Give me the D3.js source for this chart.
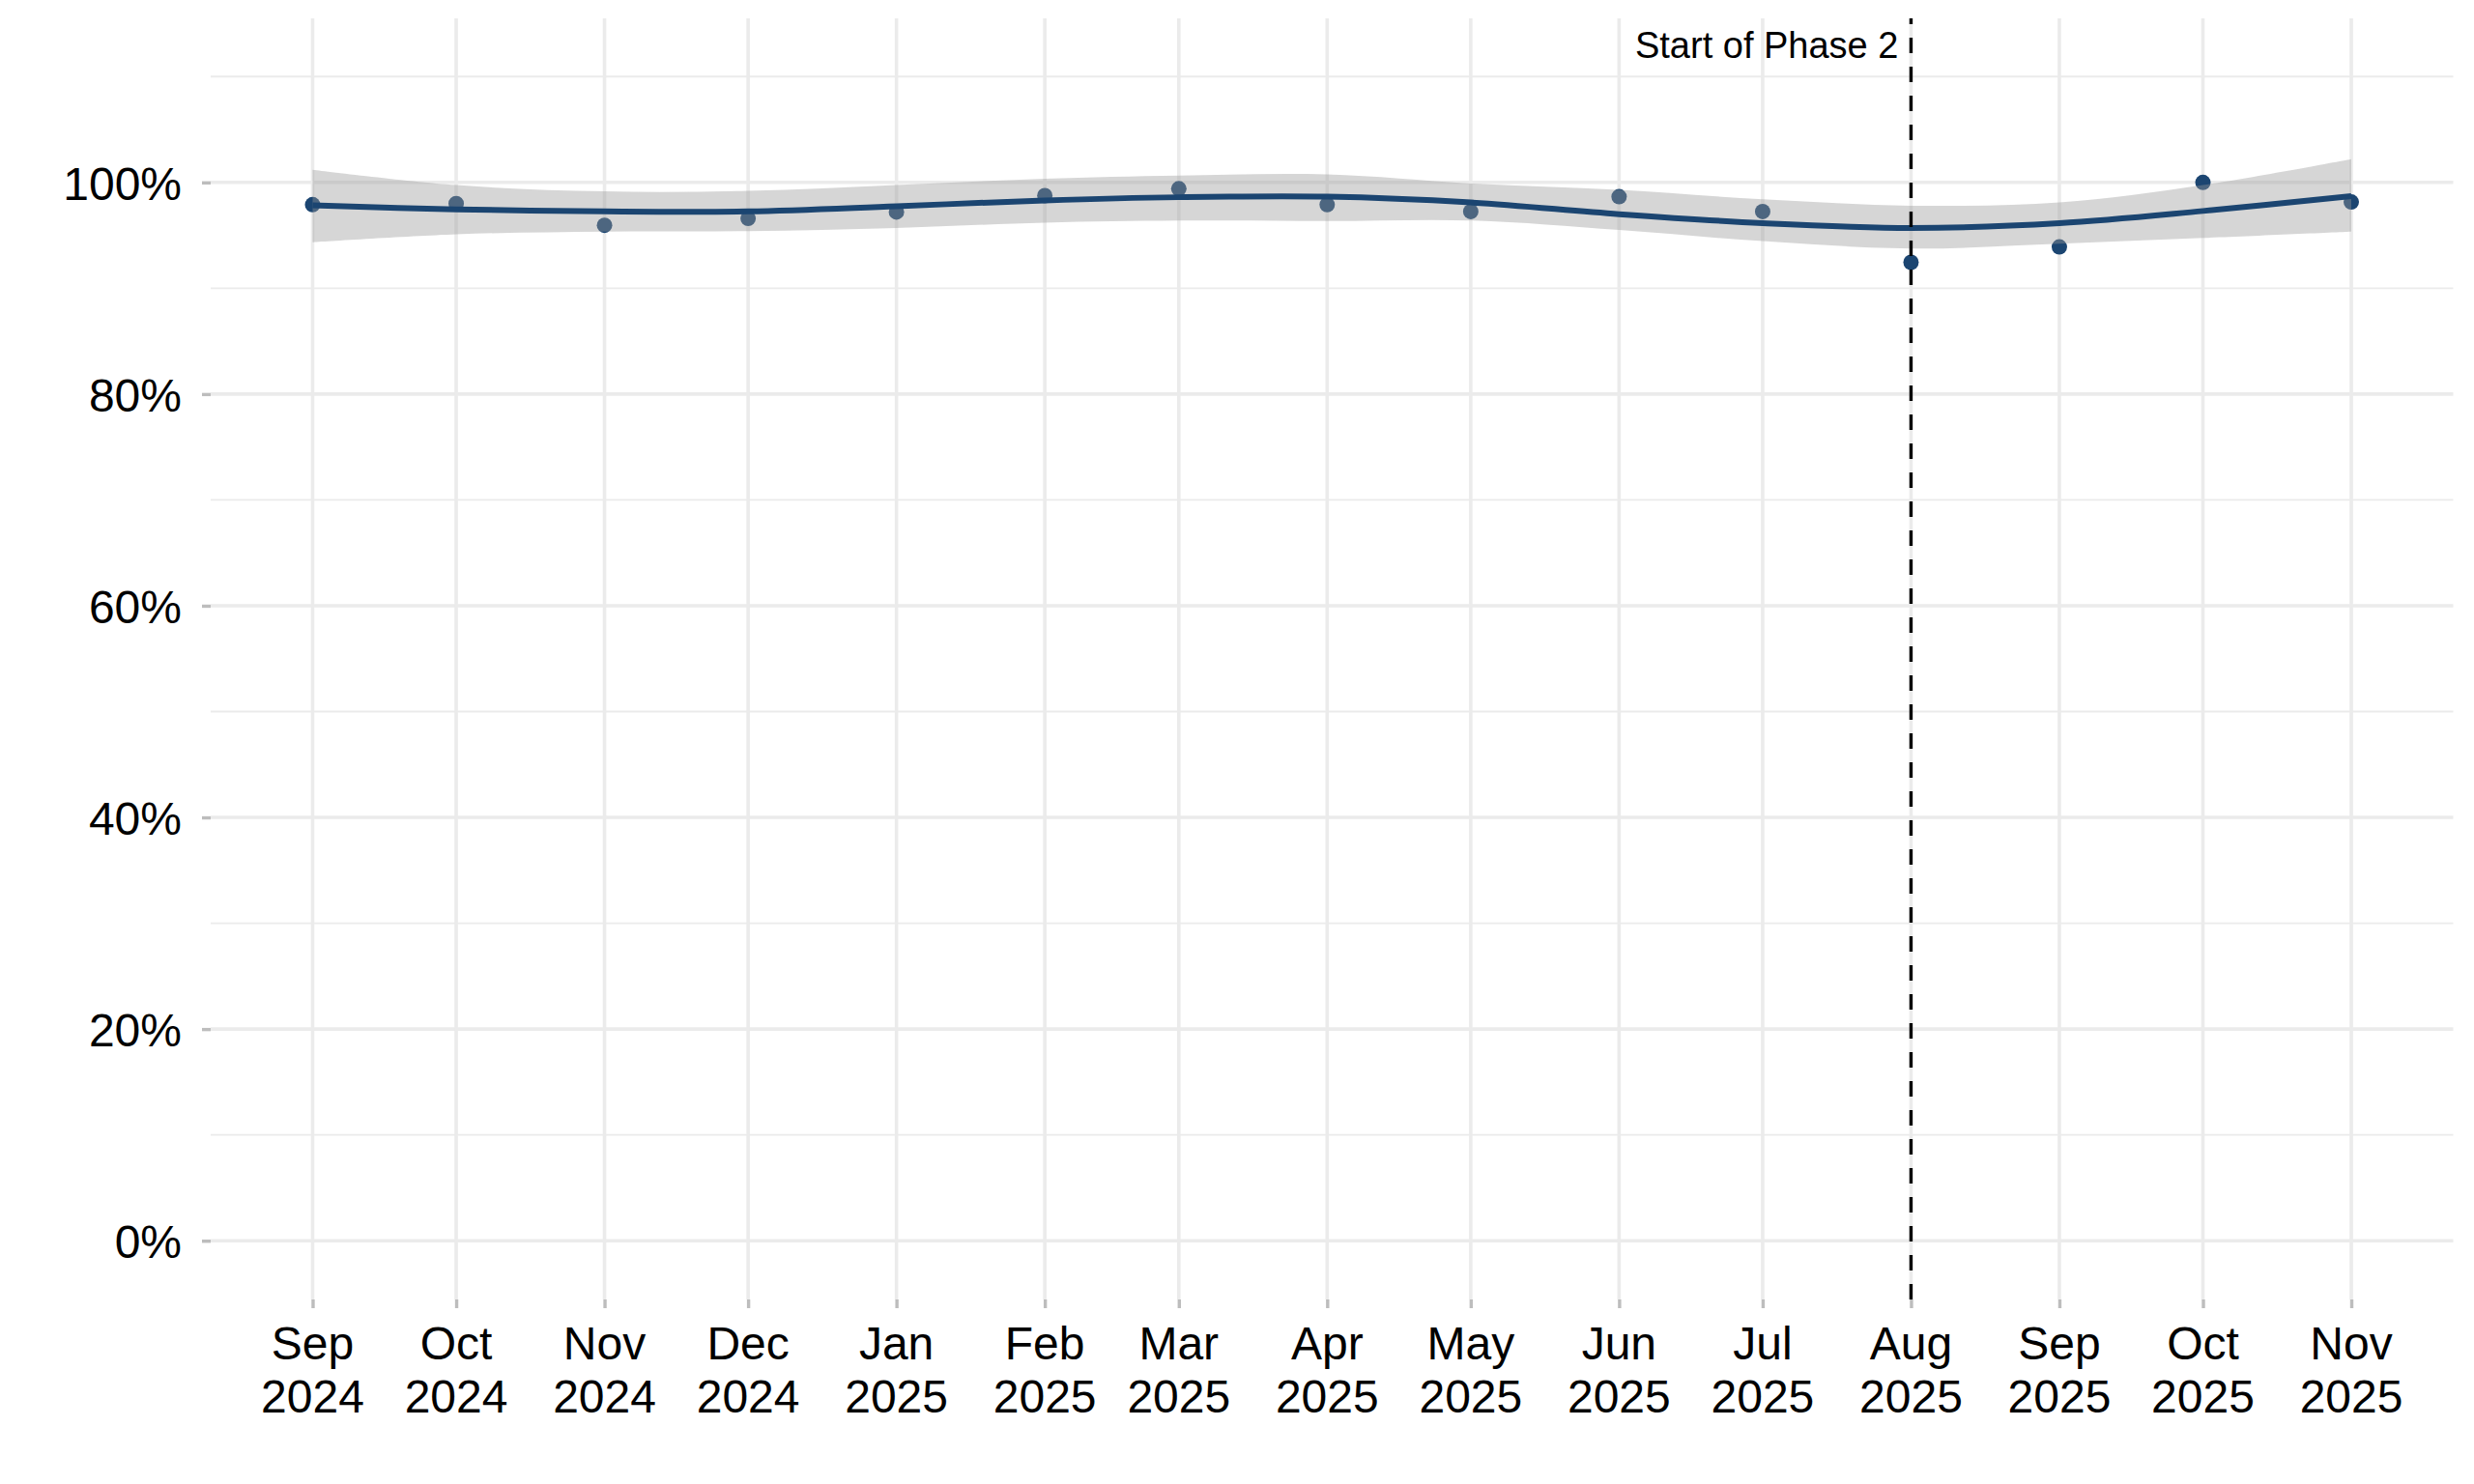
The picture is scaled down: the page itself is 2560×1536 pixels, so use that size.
<!DOCTYPE html>
<html>
<head>
<meta charset="utf-8">
<script src="https://cdn.jsdelivr.net/npm/d3@7"></script>
<style>
  html, body { margin: 0; padding: 0; background: #ffffff; }
  svg { display: block; font-family: "Liberation Sans", Arial, Helvetica, sans-serif; }
</style>
</head>
<body>
<svg id="chart" width="2560" height="1536"></svg>
<script>
// ---- data ----
const months = ["2024-09-01","2024-10-01","2024-11-01","2024-12-01","2025-01-01","2025-02-01","2025-03-01",
                "2025-04-01","2025-05-01","2025-06-01","2025-07-01","2025-08-01","2025-09-01","2025-10-01","2025-11-01"];
const values = [97.9, 98.0, 95.95, 96.6, 97.2, 98.75, 99.4, 97.9, 97.25, 98.65, 97.25, 92.45, 93.9, 100.0, 98.15];
const smoothFit = [97.84, 97.45, 97.26, 97.26, 97.75, 98.3, 98.6, 98.65, 98.1, 97.0, 96.15, 95.7, 96.15, 97.3, 98.7];
const smoothLower = [94.35, 95.1, 95.35, 95.4, 95.7, 96.2, 96.4, 96.35, 96.4, 95.5, 94.45, 93.75, 94.2, 94.75, 95.35];
const smoothUpper = [101.2, 99.75, 99.15, 99.2, 99.75, 100.35, 100.65, 100.75, 99.9, 99.3, 98.4, 97.8, 98.1, 99.75, 102.2];
const yTicks = [0, 20, 40, 60, 80, 100];
const yMinorTicks = [10, 30, 50, 70, 90, 110];
const monthLabels = ["Sep","Oct","Nov","Dec","Jan","Feb","Mar","Apr","May","Jun","Jul","Aug","Sep","Oct","Nov"];
const yearLabels = ["2024","2024","2024","2024","2025","2025","2025","2025","2025","2025","2025","2025","2025","2025","2025"];
const phaseDate = "2025-08-01";
const phaseLabel = "Start of Phase 2";
const phaseLabelY = 113;

// ---- layout ----
const svg = d3.select("#chart");
const panel = { left: 218, right: 2538.5, top: 19, bottom: 1345 };
const navy = "#1b4571";

const parse = d3.utcParse("%Y-%m-%d");
const dates = months.map(parse);
const d0 = dates[0], d1 = dates[dates.length - 1];
const span = (d1 - d0);
const xFull = d3.scaleUtc()
  .domain([new Date(+d0 - span * 0.05), new Date(+d1 + span * 0.05)])
  .range([panel.left, panel.right]);
const y = d3.scaleLinear().domain([-5.55, 115.5]).range([panel.bottom, panel.top]);

const data = dates.map((d, i) => ({
  date: d, value: values[i], fit: smoothFit[i], lo: smoothLower[i], hi: smoothUpper[i],
  mon: monthLabels[i], yr: yearLabels[i]
}));

// ---- grid ----
const grid = svg.append("g");
grid.selectAll("line.minor").data(yMinorTicks).join("line")
  .attr("x1", panel.left).attr("x2", panel.right)
  .attr("y1", d => y(d)).attr("y2", d => y(d))
  .attr("stroke", "#ebebeb").attr("stroke-width", 1.8);
grid.selectAll("line.majory").data(yTicks).join("line")
  .attr("x1", panel.left).attr("x2", panel.right)
  .attr("y1", d => y(d)).attr("y2", d => y(d))
  .attr("stroke", "#ebebeb").attr("stroke-width", 3.6);
grid.selectAll("line.majorx").data(dates).join("line")
  .attr("x1", d => xFull(d)).attr("x2", d => xFull(d))
  .attr("y1", panel.top).attr("y2", panel.bottom)
  .attr("stroke", "#ebebeb").attr("stroke-width", 3.6);

// ---- axes ----
const xAxis = d3.axisBottom(xFull).tickValues(dates).tickSizeInner(9).tickSizeOuter(0).tickPadding(0).tickFormat("");
const gx = svg.append("g").attr("transform", `translate(0,${panel.bottom})`).call(xAxis);
gx.select(".domain").remove();
gx.selectAll(".tick line").attr("stroke", "#bdbdbd").attr("stroke-width", 3.4);
gx.selectAll(".tick text").remove();
const xl = svg.append("g");
xl.selectAll("text").data(data).join("text")
  .attr("text-anchor", "middle")
  .attr("font-size", 48)
  .attr("fill", "#000")
  .each(function(d) {
    const t = d3.select(this);
    t.append("tspan").attr("x", xFull(d.date)).attr("y", 1406.5).text(d.mon);
    t.append("tspan").attr("x", xFull(d.date)).attr("y", 1461.5).text(d.yr);
  });

const yAxis = d3.axisLeft(y).tickValues(yTicks).tickSizeInner(9).tickSizeOuter(0).tickPadding(21)
  .tickFormat(d => d + "%");
const gy = svg.append("g").attr("transform", `translate(${panel.left},0)`).call(yAxis);
gy.select(".domain").remove();
gy.selectAll(".tick line").attr("stroke", "#bdbdbd").attr("stroke-width", 3.4);
gy.selectAll(".tick text").attr("font-size", 48).attr("fill", "#000")
  .attr("font-family", "'Liberation Sans', Arial, sans-serif").attr("dy", "0.36em");

// ---- points ----
svg.append("g").selectAll("circle").data(data).join("circle")
  .attr("cx", d => xFull(d.date)).attr("cy", d => y(d.value))
  .attr("r", 8).attr("fill", navy);

// ---- smooth ribbon & line ----
const curve = d3.curveCatmullRom.alpha(0.5);
const area = d3.area().x(d => xFull(d.date)).y0(d => y(d.lo)).y1(d => y(d.hi)).curve(curve);
svg.append("path").datum(data).attr("d", area).attr("fill", "#999999").attr("fill-opacity", 0.4);
const line = d3.line().x(d => xFull(d.date)).y(d => y(d.fit)).curve(curve);
svg.append("path").datum(data).attr("d", line).attr("fill", "none")
  .attr("stroke", navy).attr("stroke-width", 6).attr("stroke-linejoin", "round");

// ---- phase annotation ----
const px = xFull(parse(phaseDate));
svg.append("line")
  .attr("x1", px).attr("x2", px).attr("y1", panel.bottom).attr("y2", panel.top)
  .attr("stroke", "#000").attr("stroke-width", 3.4).attr("stroke-dasharray", "16,14");
svg.append("text")
  .attr("x", px - 13).attr("y", y(phaseLabelY)).attr("dy", "0.36em")
  .attr("text-anchor", "end").attr("font-size", 38).attr("fill", "#000")
  .text(phaseLabel);
</script>
</body>
</html>
